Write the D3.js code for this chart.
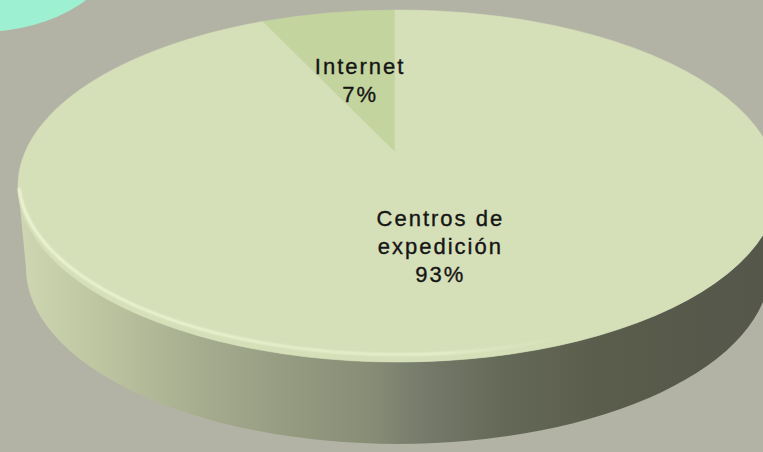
<!DOCTYPE html>
<html>
<head>
<meta charset="utf-8">
<script src="https://cdn.jsdelivr.net/npm/d3@7"></script>
<style>
  html, body { margin: 0; padding: 0; background: #b2b2a5; }
  svg { display: block; }
  text { font-family: "Liberation Sans", Arial, sans-serif; }
</style>
</head>
<body>
<div id="chart"></div>
<script>
// Данные диаграммы
const categories = ['Internet', 'Centros de expedición'];
const labelLines = [['Internet'], ['Centros de', 'expedición']];
const values = [7, 93];
const sliceColors = ['#c4d49f', '#d5dfb8'];

const width = 763, height = 452;

// Геометрия "3D" пирога
const cx = 398, cy = 186, rx = 380, ry = 176;
const depth = 82, rxBottom = 372;
// вершина смещена вверх (перспектива)
const vx = 395, vy = 152;

const svg = d3.select('#chart').append('svg')
    .attr('width', width)
    .attr('height', height);

const defs = svg.append('defs');

const sideGrad = defs.append('linearGradient')
    .attr('id', 'side')
    .attr('gradientUnits', 'userSpaceOnUse')
    .attr('x1', 18).attr('x2', 763)
    .attr('y1', 0).attr('y2', 0);
[
    [0, '#cfd7b2'], [0.1, '#bec6a2'], [0.25, '#a5ac8e'], [0.35, '#969d82'],
    [0.47, '#888e76'], [0.55, '#74796a'], [0.65, '#656957'], [0.78, '#5a5d4b'], [1, '#54574a']
].forEach(s => sideGrad.append('stop').attr('offset', s[0]).attr('stop-color', s[1]));

const rimGrad = defs.append('linearGradient')
    .attr('id', 'rim')
    .attr('gradientUnits', 'userSpaceOnUse')
    .attr('x1', 18).attr('x2', 763)
    .attr('y1', 0).attr('y2', 0);
rimGrad.append('stop').attr('offset', 0).attr('stop-color', '#f6fcdc').attr('stop-opacity', 0.95);
rimGrad.append('stop').attr('offset', 0.55).attr('stop-color', '#f3fad6').attr('stop-opacity', 0.8);
rimGrad.append('stop').attr('offset', 0.75).attr('stop-color', '#e8f0c8').attr('stop-opacity', 0);

defs.append('filter').attr('id', 'soft')
    .append('feGaussianBlur').attr('stdDeviation', 0.8);

// бирюзовый фрагмент в левом верхнем углу
svg.append('ellipse')
    .attr('cx', -20).attr('cy', -60)
    .attr('rx', 140).attr('ry', 92)
    .attr('fill', '#9df0d1');

// Боковая стенка (передняя половина цилиндра)
const side = `M${cx - rx},${cy} A${rx},${ry} 0 0 0 ${cx + rx},${cy} ` +
    `L${cx + rxBottom},${cy + depth} A${rxBottom},${ry} 0 0 1 ${cx - rxBottom},${cy + depth} Z`;
svg.append('path')
    .attr('d', side)
    .attr('fill', 'url(#side)');

// Точка на эллипсе по лучу из вершины
const rayPoint = (a, frac) => {
    const u = (vx - cx) / rx, w = (vy - cy) / ry;
    const p = Math.sin(a), q = -Math.cos(a);
    const b = u * p + w * q;
    const s = -b + Math.sqrt(b * b - (u * u + w * w - 1));
    const k = frac === undefined ? s : s * frac;
    return [vx + k * rx * p, vy + k * ry * q];
};

const pie = d3.pie().sort(null).startAngle(0).endAngle(-2 * Math.PI);
const arcs = pie(values);
const total = d3.sum(values);

const slicePath = (d) => {
    const p0 = rayPoint(d.startAngle);
    const p1 = rayPoint(d.endAngle);
    const large = Math.abs(d.endAngle - d.startAngle) > Math.PI ? 1 : 0;
    const sweep = d.endAngle > d.startAngle ? 1 : 0;
    return `M${vx},${vy} L${p0[0]},${p0[1]} A${rx},${ry} 0 ${large} ${sweep} ${p1[0]},${p1[1]} Z`;
};

svg.append('g')
    .selectAll('path')
    .data(arcs)
    .join('path')
    .attr('d', slicePath)
    .attr('fill', (d, i) => sliceColors[i])
    .attr('stroke', (d, i) => sliceColors[i])
    .attr('stroke-width', 0.6);

// светлый блик по переднему краю
svg.append('path')
    .attr('d', `M${cx - rx + 1},${cy + 2} A${rx},${ry} 0 0 0 ${cx + rx},${cy + 1}`)
    .attr('fill', 'none')
    .attr('stroke', 'url(#rim)')
    .attr('stroke-width', 2.2)
    .attr('filter', 'url(#soft)');

// Подписи
const labelFrac = [0.52, 0.46];
const lineH = 28;
svg.append('g')
    .selectAll('text')
    .data(arcs)
    .join('text')
    .attr('text-anchor', 'middle')
    .attr('font-size', 22)
    .attr('letter-spacing', 2)
    .attr('fill', '#151515')
    .attr('stroke', '#151515')
    .attr('stroke-width', 0.35)
    .each(function (d, i) {
        const mid = (d.startAngle + d.endAngle) / 2;
        const pos = rayPoint(mid, labelFrac[i]);
        const lines = labelLines[i].concat([Math.round(values[i] / total * 100) + '%']);
        const y0 = pos[1] - (lines.length - 1) * lineH / 2 + 8;
        d3.select(this).selectAll('tspan')
            .data(lines)
            .join('tspan')
            .attr('x', pos[0])
            .attr('y', (t, j) => y0 + j * lineH)
            .text(t => t);
    });
</script>
</body>
</html>
